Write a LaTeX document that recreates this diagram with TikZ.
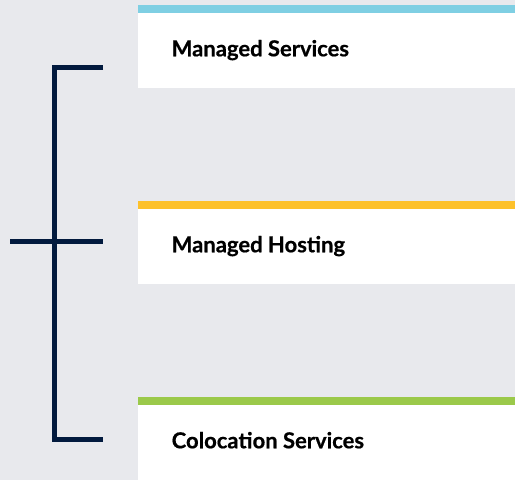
\documentclass[tikz,border=0pt]{standalone}
\usepackage{fontspec}
\setmainfont{Lato}[BoldFeatures={FakeBold=0.6}]
\definecolor{bg}{HTML}{E8E9ED}
\definecolor{navy}{HTML}{021A3E}
\definecolor{sblue}{HTML}{7FCFE3}
\definecolor{syellow}{HTML}{FDC12B}
\definecolor{sgreen}{HTML}{9BC94A}
\tikzset{
  panel/.style={fill=white, draw=none},
  stripe/.style={fill=#1, draw=none},
  label/.style={anchor=base west, font=\bfseries\fontsize{22}{25}\selectfont, text=black, inner sep=0pt},
  brack/.style={draw=navy, line width=5pt}
}
\begin{document}
\begin{tikzpicture}[x=1pt,y=-1pt]
\fill[bg] (0,0) rectangle (515,480);
\useasboundingbox (0,0) rectangle (515,480);
% panels
\fill[panel] (138,5) rectangle (515,88);
\fill[stripe=sblue] (138,5) rectangle (515,12.5);
\node[label] (ms) at (171.5,56.3) {Managed Services};
\fill[panel] (138,201) rectangle (515,284);
\fill[stripe=syellow] (138,201) rectangle (515,208.5);
\node[label] (mh) at (171.5,252.3) {Managed Hosting};
\fill[panel] (138,397) rectangle (515,480);
\fill[stripe=sgreen] (138,397) rectangle (515,404.5);
\node[label] (cs) at (171.5,448.3) {Colocation Services};
% bracket
\coordinate (t) at (103,67.5);
\coordinate (tl) at (54.8,67.5);
\coordinate (b) at (103,439);
\coordinate (bl) at (54.8,439);
\coordinate (ml) at (10,241.5);
\coordinate (mr) at (103,241.5);
\draw[brack] (t) -- (tl) -- (bl) -- (b);
\draw[brack] (ml) -- (mr);
\end{tikzpicture}
\end{document}
